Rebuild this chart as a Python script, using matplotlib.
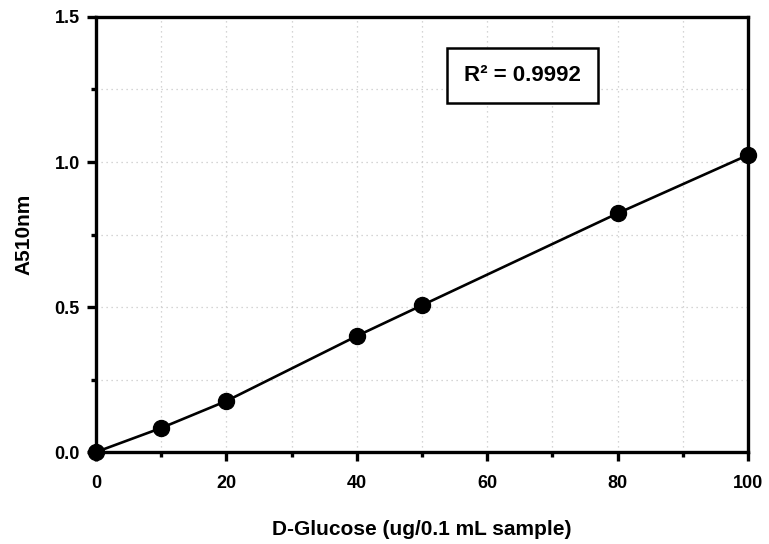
import matplotlib
matplotlib.use("Agg")
import matplotlib.pyplot as plt
from matplotlib.ticker import MultipleLocator, FormatStrFormatter

plt.rcParams['font.family'] = ['Liberation Sans', 'DejaVu Sans']

glucose = [0, 10, 20, 40, 50, 80, 100]
absorbance = [0.0, 0.083, 0.176, 0.40, 0.506, 0.823, 1.024]
x_label = "D-Glucose (ug/0.1 mL sample)"
y_label = "A510nm"
r2_text = "R\u00b2 = 0.9992"

fig = plt.figure(figsize=(7.69, 5.44), dpi=100)
ax = fig.add_axes([0.1248, 0.169, 0.8479, 0.7998])

ax.plot(glucose, absorbance, color='black', lw=1.9, marker='o', ms=11.5,
        mfc='black', mec='black', clip_on=False, zorder=5)

ax.set_xlim(0, 100)
ax.set_ylim(0, 1.5)
ax.xaxis.set_major_locator(MultipleLocator(20))
ax.xaxis.set_minor_locator(MultipleLocator(10))
ax.yaxis.set_major_locator(MultipleLocator(0.5))
ax.yaxis.set_minor_locator(MultipleLocator(0.25))
ax.yaxis.set_major_formatter(FormatStrFormatter('%.1f'))

ax.grid(True, which='both', color='#c8c8c8', linestyle=(0, (1, 3)), lw=0.9)
ax.set_axisbelow(True)

for s in ax.spines.values():
    s.set_linewidth(2.4)

ax.tick_params(which='major', direction='out', length=6.5, width=2.4,
               labelsize=13, pad=0)
ax.tick_params(axis='x', which='major', pad=10)
ax.tick_params(axis='y', which='major', pad=5)
ax.tick_params(which='minor', direction='out', length=3.5, width=2.4)
for lab in ax.get_xticklabels() + ax.get_yticklabels():
    lab.set_fontweight('bold')

ax.set_xlabel(x_label, fontsize=15, fontweight='bold', labelpad=20)
ax.set_ylabel(y_label, fontsize=15, fontweight='bold', labelpad=15)

ax.text(0.654, 0.8655, r2_text, transform=ax.transAxes, fontsize=16,
        fontweight='bold', ha='center', va='center',
        bbox=dict(boxstyle='square,pad=0.75', fc='white', ec='black', lw=1.8))

fig.savefig('out.png', dpi=100)
